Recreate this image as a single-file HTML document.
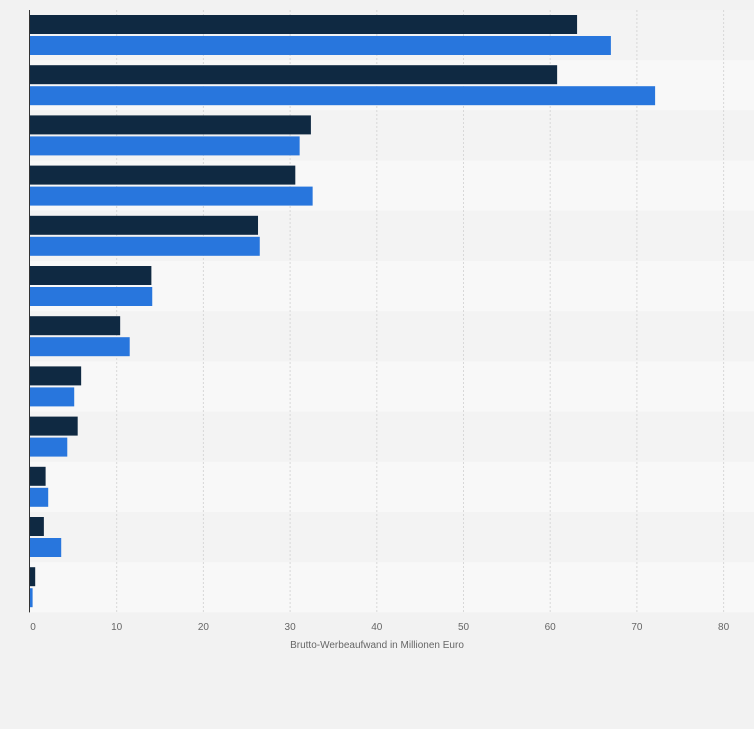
<!DOCTYPE html>
<html><head><meta charset="utf-8"><style>
html,body{margin:0;padding:0;background:#f2f2f2;}
svg{display:block;font-family:"Liberation Sans",sans-serif;}
</style></head><body>
<svg id="c" width="754" height="729"></svg>
<script>
const categories=["r1","r2","r3","r4","r5","r6","r7","r8","r9","r10","r11","r12"];
const series1=[63.1,60.8,32.4,30.6,26.3,14.0,10.4,5.9,5.5,1.8,1.6,0.6];
const series2=[67.0,72.1,31.1,32.6,26.5,14.1,11.5,5.1,4.3,2.1,3.6,0.3];
const ticks=[0,10,20,30,40,50,60,70,80];
const NS="http://www.w3.org/2000/svg";
const svg=document.getElementById('c');
const x0=30,x1=723.6,y0=10,rowH=50.2;
const xs=v=>x0+(v/80)*(x1-x0);
function mk(t,a){const e=document.createElementNS(NS,t);for(const k in a)e.setAttribute(k,a[k]);svg.appendChild(e);return e;}
categories.forEach((c,i)=>{
 const r=mk('rect',{x:x0,y:y0+i*rowH,width:754-x0,height:rowH,fill:i%2?'#f8f8f8':'#f3f3f3'});
 
 
});
ticks.forEach(t=>{
 if(t>0){const g=mk('line',{x1:xs(t),x2:xs(t),y1:y0,y2:y0+12*rowH,stroke:'#d8d8d8','stroke-dasharray':'2,2'});
 
 }
 const l=mk('text',{x:xs(t)+(t==0?3:0),y:630,'font-size':'10','fill':'#666','text-anchor':'middle'});
 l.textContent=t;
 
 
});
categories.forEach((c,i)=>{
 const b1=mk('rect',{x:x0,y:y0+i*rowH+5,width:xs(series1[i])-x0,height:19,fill:'#0f2942'});
 
 
 const b2=mk('rect',{x:x0,y:y0+i*rowH+26,width:xs(series2[i])-x0,height:19,fill:'#2876dd'});
 
 
});
const ax=mk('line',{x1:29.5,x2:29.5,y1:y0,y2:y0+12*rowH,stroke:'#333','stroke-width':1});


const tt=mk('text',{x:377,y:648,'font-size':'10','fill':'#666','text-anchor':'middle'});
tt.textContent='Brutto-Werbeaufwand in Millionen Euro';


</script>
</body></html>
